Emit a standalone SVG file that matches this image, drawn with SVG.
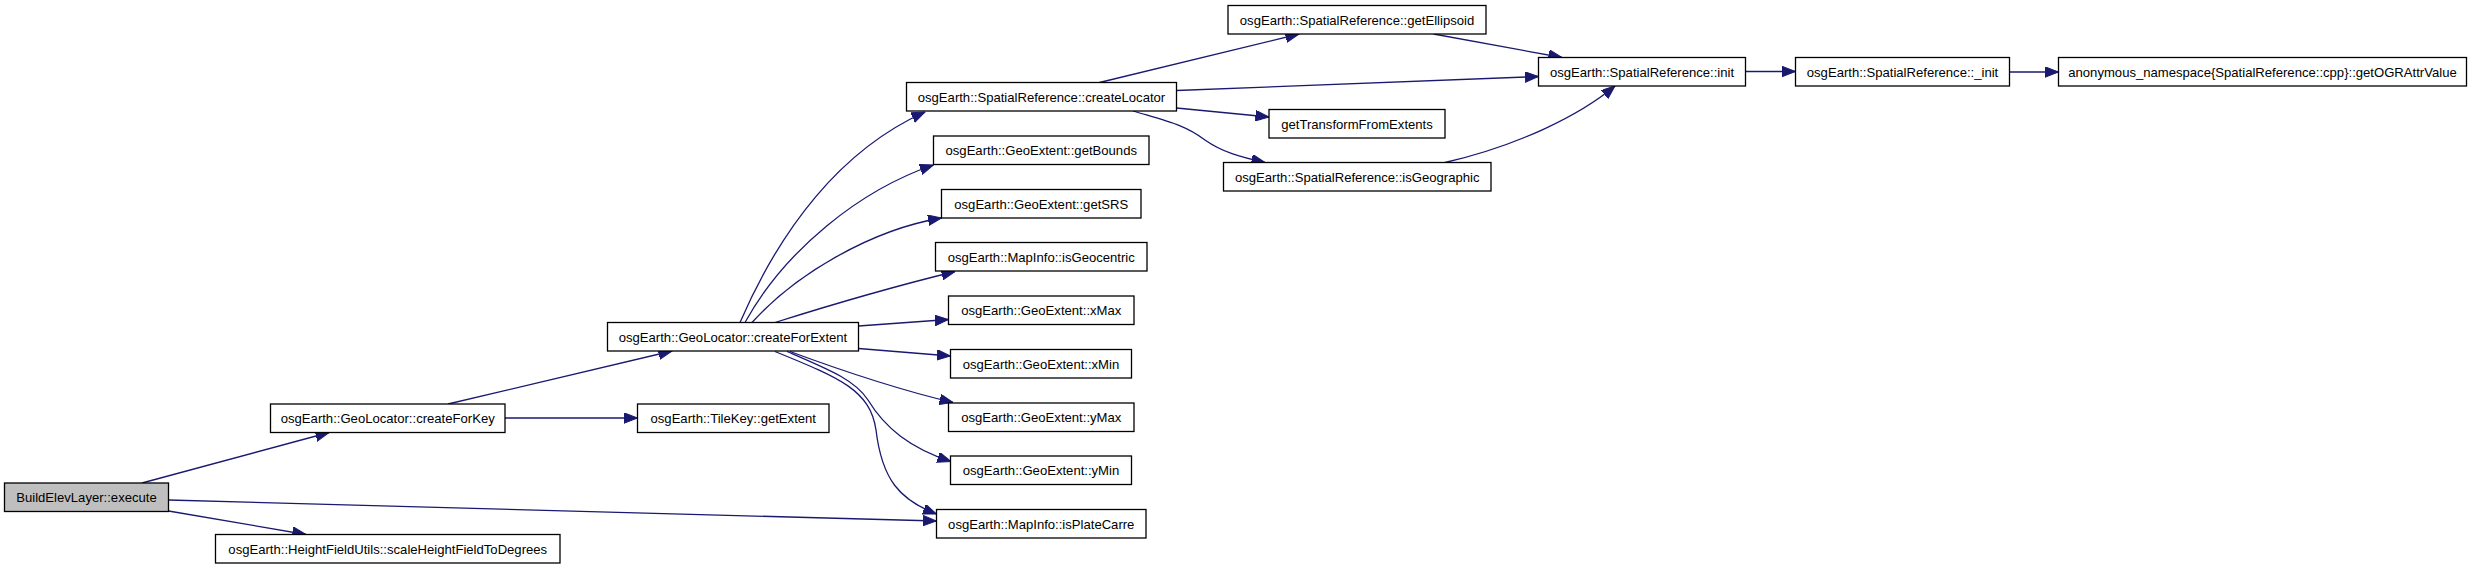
<svg xmlns="http://www.w3.org/2000/svg" width="2475" height="569" viewBox="0 0 2475 569">
<defs>
<style>
.n rect{fill:#ffffff;stroke:#000000;stroke-width:1.3}
.n.root rect{fill:#bfbfbf}
.n text{font-family:"Liberation Sans",Arial,sans-serif;font-size:13.1px;fill:#000000;text-anchor:middle}
.e path{fill:none;stroke:#191970;stroke-width:1.3;marker-end:url(#arr)}
</style>
<marker id="arr" markerUnits="userSpaceOnUse" markerWidth="14" markerHeight="11" refX="13.5" refY="5.25" orient="auto">
<path d="M0,0 L13.5,5.25 L0,10.5 z" fill="#191970" stroke="#191970" stroke-width="1"/>
</marker>
</defs>
<rect width="2475" height="569" fill="#ffffff"/>
<g id="connectors" class="e">
<path d="M142,483 L329,432.5"/>
<path d="M168.5,500 L936.5,521"/>
<path d="M168.5,511 L306,534.5"/>
<path d="M448,404 L672,351"/>
<path d="M505,418 L637.5,418"/>
<path d="M740,322.5 C780,230 840,150 925,112"/>
<path d="M745,322.5 C785,250 860,190 933.5,165"/>
<path d="M752,322.5 C795,275 870,230 941.5,218"/>
<path d="M775,322.5 C840,302 900,285 955,271.5"/>
<path d="M858.5,326 L948.5,319.5"/>
<path d="M858.5,348.5 L950.5,356"/>
<path d="M790,351.5 C840,370 900,390 953,402.5"/>
<path d="M787,351.5 C830,370 855,380 868,400 C885,428 910,448 951,461.5"/>
<path d="M775,351.5 C840,378 870,390 876,430 C882,480 900,500 936.5,514"/>
<path d="M1099.5,82.5 L1299,34"/>
<path d="M1176.5,90.5 L1538.5,76.5"/>
<path d="M1176.5,108 L1269,117"/>
<path d="M1133,111 C1170,122 1185,125 1205,140 C1222,152 1240,157 1265,162.5"/>
<path d="M1433.5,34 L1562,57.5"/>
<path d="M1445,162.5 C1520,145 1580,115 1615,86"/>
<path d="M1745.5,71.5 L1795.5,71.5"/>
<path d="M2009.5,72 L2058.5,72"/>
</g>
<g id="n_build" class="n root"><rect x="4.5" y="483" width="164" height="28.5"/><text x="86.5" y="502">BuildElevLayer::execute</text></g>
<g id="n_createForKey" class="n"><rect x="270.5" y="404" width="234.5" height="28.5"/><text x="387.75" y="423">osgEarth::GeoLocator::createForKey</text></g>
<g id="n_scaleHF" class="n"><rect x="215.5" y="534.5" width="344.5" height="28.5"/><text x="387.75" y="553.5">osgEarth::HeightFieldUtils::scaleHeightFieldToDegrees</text></g>
<g id="n_createForExtent" class="n"><rect x="607.5" y="322.5" width="251" height="28.5"/><text x="733" y="341.5">osgEarth::GeoLocator::createForExtent</text></g>
<g id="n_getExtent" class="n"><rect x="637.5" y="404" width="191.5" height="28.5"/><text x="733.25" y="423">osgEarth::TileKey::getExtent</text></g>
<g id="n_createLocator" class="n"><rect x="906.5" y="82.5" width="270" height="28.5"/><text x="1041.5" y="101.5">osgEarth::SpatialReference::createLocator</text></g>
<g id="n_getBounds" class="n"><rect x="933.5" y="136" width="215.5" height="28.5"/><text x="1041.25" y="155">osgEarth::GeoExtent::getBounds</text></g>
<g id="n_getSRS" class="n"><rect x="941.5" y="189.5" width="199.5" height="28.5"/><text x="1041.25" y="208.5">osgEarth::GeoExtent::getSRS</text></g>
<g id="n_isGeocentric" class="n"><rect x="935.5" y="242.5" width="211.5" height="28.5"/><text x="1041.25" y="261.5">osgEarth::MapInfo::isGeocentric</text></g>
<g id="n_xMax" class="n"><rect x="948.5" y="296" width="185.5" height="28.5"/><text x="1041.25" y="315">osgEarth::GeoExtent::xMax</text></g>
<g id="n_xMin" class="n"><rect x="950.5" y="349.5" width="181" height="28.5"/><text x="1041" y="368.5">osgEarth::GeoExtent::xMin</text></g>
<g id="n_yMax" class="n"><rect x="948.5" y="403" width="185.5" height="28.5"/><text x="1041.25" y="422">osgEarth::GeoExtent::yMax</text></g>
<g id="n_yMin" class="n"><rect x="950.5" y="456" width="181" height="28.5"/><text x="1041" y="475">osgEarth::GeoExtent::yMin</text></g>
<g id="n_isPlateCarre" class="n"><rect x="936.5" y="509.5" width="209.5" height="28.5"/><text x="1041.25" y="528.5">osgEarth::MapInfo::isPlateCarre</text></g>
<g id="n_getEllipsoid" class="n"><rect x="1228" y="5.5" width="258" height="28.5"/><text x="1357" y="24.5">osgEarth::SpatialReference::getEllipsoid</text></g>
<g id="n_getTransform" class="n"><rect x="1269" y="109.5" width="176" height="28.5"/><text x="1357" y="128.5">getTransformFromExtents</text></g>
<g id="n_isGeographic" class="n"><rect x="1223.5" y="162.5" width="267.5" height="28.5"/><text x="1357.25" y="181.5">osgEarth::SpatialReference::isGeographic</text></g>
<g id="n_init" class="n"><rect x="1538.5" y="57.5" width="207" height="28.5"/><text x="1642" y="76.5">osgEarth::SpatialReference::init</text></g>
<g id="n__init" class="n"><rect x="1795.5" y="57.5" width="214" height="28.5"/><text x="1902.5" y="76.5">osgEarth::SpatialReference::_init</text></g>
<g id="n_getOGR" class="n"><rect x="2058.5" y="57.5" width="408" height="28.5"/><text x="2262.5" y="76.5">anonymous_namespace{SpatialReference::cpp}::getOGRAttrValue</text></g>
</svg>
